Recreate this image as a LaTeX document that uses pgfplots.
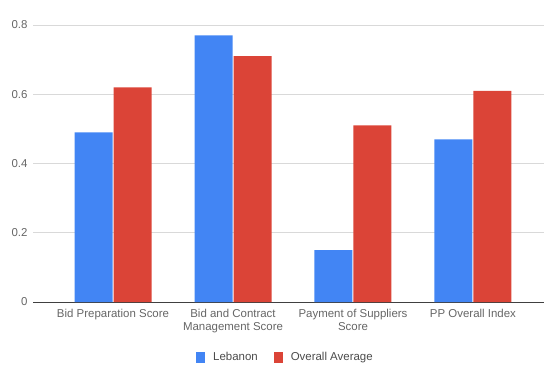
\documentclass[border=0pt]{standalone}
\usepackage{fontspec}
\setmainfont{Liberation Sans}
\usepackage{pgfplots}
\pgfplotsset{compat=1.18}
\definecolor{gblue}{HTML}{4285F4}
\definecolor{gred}{HTML}{DB4437}
\definecolor{tgray}{HTML}{666666}
\definecolor{gridc}{HTML}{D9D9D9}
\begin{document}
\begin{tikzpicture}
\path[use as bounding box] (-33bp,-65bp) rectangle (511bp,302bp);
\begin{axis}[
  at={(0,0)}, anchor=south west,
  scale only axis, width=511bp, height=277bp,
  ybar=1bp, bar width=38bp,
  xmin=-0.667, xmax=3.592,
  ymin=0, ymax=0.8,
  ytick={0,0.2,0.4,0.6,0.8},
  yticklabels={0,0.2,0.4,0.6,0.8},
  xtick={0,1,2,3},
  xticklabels={Bid Preparation Score, {Bid and Contract\\Management Score}, {Payment of Suppliers\\Score}, PP Overall Index},
  x tick label style={align=center, text=tgray, font=\fontsize{11.5}{13}\selectfont, yshift=-4bp},
  y tick label style={text=tgray, font=\fontsize{11.5}{13}\selectfont, xshift=-2bp},
  ymajorgrids, xmajorgrids=false,
  y grid style={draw=gridc, line width=0.8bp},
  axis lines*=left,
  y axis line style={draw=none},
  x axis line style={draw=black!75, line width=1bp, -},
  major tick length=0pt,
  tick style={draw=none},
  legend style={at={(0.494,-0.199)}, anchor=center, draw=none, legend columns=2,
    font=\fontsize{11.5}{13}\selectfont, text=black!70,
    /tikz/every odd column/.append style={column sep=6bp},
    /tikz/every even column/.append style={column sep=14bp}},
  legend image code/.code={\fill[#1] (0bp,-5.5bp) rectangle (9bp,5.5bp);},
  /pgf/number format/assume math mode=true,
  clip=false,
]
\addplot[fill=gblue, draw=none] coordinates {(0,0.49) (1,0.77) (2,0.15) (3,0.47)};
\addplot[fill=gred, draw=none] coordinates {(0,0.62) (1,0.71) (2,0.51) (3,0.61)};
\legend{Lebanon, Overall Average}
\end{axis}
\end{tikzpicture}
\end{document}
